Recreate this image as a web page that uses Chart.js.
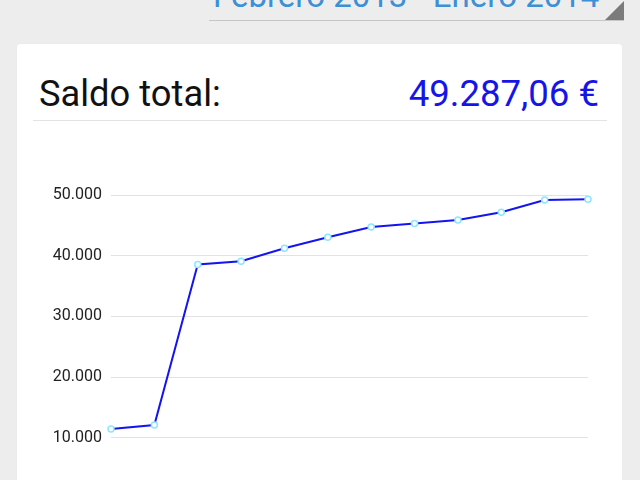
<!DOCTYPE html>
<html>
<head>
<meta charset="utf-8">
<script src="https://cdn.jsdelivr.net/npm/chart.js@4.4.0/dist/chart.umd.min.js"></script>
<style>
  html, body { margin: 0; padding: 0; width: 640px; height: 480px; overflow: hidden; background: #ededed; font-family: Roboto, "Noto Sans", sans-serif; }
  #range { position: absolute; left: 209px; top: -20px; width: 415px; height: 40px; border-bottom: 1.5px solid #c6c6c6; }
  #rangeText { position: absolute; left: 213px; top: -21px; font-size: 33px; line-height: 33px; color: #3d8fd6; white-space: nowrap; }
  #tri { position: absolute; left: 605px; top: 1px; width: 0; height: 0; border-left: 19px solid transparent; border-bottom: 19.5px solid #7b7b7b; }
  #card { position: absolute; left: 17px; top: 44px; width: 605px; height: 520px; background: #fff; border-radius: 3px; box-shadow: 0 0 1px rgba(0,0,0,0.08); }
  #lbl { position: absolute; left: 39px; top: 74px; font-size: 36.3px; line-height: 40px; color: #111; white-space: nowrap; }
  #val { position: absolute; right: 41px; top: 74px; font-size: 36.6px; line-height: 40px; color: #1515e8; white-space: nowrap; }
  #sep { position: absolute; left: 33px; top: 120px; width: 574px; height: 1px; background: #e3e3e3; }
  #wrap { position: absolute; left: 17px; top: 130px; width: 605px; height: 400px; }
</style>
</head>
<body>
<div id="range"></div>
<div id="rangeText">Febrero 2013 - Enero 2014</div>
<div id="tri"></div>
<div id="card"></div>
<div id="lbl">Saldo total:</div>
<div id="val">49.287,06 €</div>
<div id="sep"></div>
<div id="wrap"><canvas id="c" width="605" height="400"></canvas></div>
<script>
const months = ["feb", "mar", "abr", "may", "jun", "jul", "ago", "sep", "oct", "nov", "dic", "ene"];
const saldo = [11430, 12090, 38570, 39080, 41220, 43030, 44740, 45290, 45900, 47150, 49190, 49287.06];
const yTicks = [0, 10000, 20000, 30000, 40000, 50000];

function fmt(v) {
  return String(Math.round(v)).replace(/\B(?=(\d{3})+(?!\d))/g, ".");
}

new Chart(document.getElementById("c"), {
  type: "line",
  data: {
    labels: months,
    datasets: [{
      data: saldo,
      borderColor: "#1414f0",
      borderWidth: 2,
      tension: 0,
      fill: false,
      pointRadius: 3,
      pointBorderWidth: 1.5,
      pointBorderColor: "#8fe4ff",
      pointBackgroundColor: "#ffffff"
    }]
  },
  options: {
    responsive: false,
    animation: false,
    events: [],
    layout: { padding: { top: 65, right: 34, left: 0, bottom: 0 } },
    plugins: { legend: { display: false }, tooltip: { enabled: false } },
    scales: {
      x: {
        offset: false,
        grid: { display: false, drawTicks: false },
        border: { display: false },
        ticks: { font: { family: "Roboto", size: 16 }, color: "#222" },
        afterFit: (s) => { s.height = 31.5; }
      },
      y: {
        min: yTicks[0],
        max: yTicks[yTicks.length - 1],
        afterBuildTicks: (s) => { s.ticks = yTicks.map(v => ({ value: v })); },
        grid: { color: "#e2e2e2", lineWidth: 1, drawTicks: false },
        border: { display: false },
        ticks: { padding: 9, font: { family: "Roboto", size: 16 }, color: "#222", callback: (v) => fmt(v) },
        afterFit: (s) => { s.width = 94; }
      }
    }
  }
});
</script>
</body>
</html>
